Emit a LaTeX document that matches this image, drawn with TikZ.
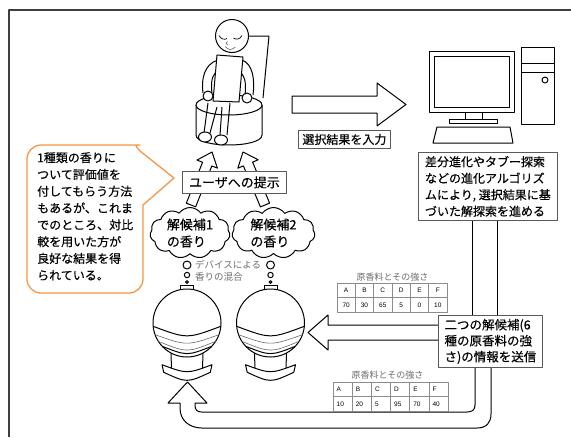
\documentclass[tikz,border=0pt]{standalone}
\usepackage{fontspec}
\setmainfont{Noto Sans CJK JP}[FakeBold=0.35]
\newfontfamily\plainjp{Noto Sans CJK JP}
\newfontfamily\latinsans{Liberation Sans}
\usetikzlibrary{shapes.symbols,shapes.geometric}
\definecolor{calloutorange}{HTML}{F79646}
\definecolor{framegray}{HTML}{3F3F3F}
\definecolor{softgray}{HTML}{6E6E6E}

\tikzset{
  ink/.style={draw=black, line width=1pt},
  thinink/.style={draw=black!60, line width=0.6pt},
  labelbox/.style={draw=black!65, line width=0.8pt, fill=white, inner sep=2pt, align=left},
  jp12/.style={font=\fontsize{12}{16.5}\selectfont},
  jp13/.style={font=\fontsize{13}{17}\selectfont},
  puff/.style={cloud, draw=black, line width=1pt, fill=white, cloud puffs=11,
    cloud puff arc=110, cloud ignores aspect, inner sep=0pt, align=left,
    font=\fontsize{13}{17}\selectfont},
  cellbox/.style={draw=black!45, line width=0.5pt, fill=white},
  celltext/.style={font=\latinsans\fontsize{6.5}{7}\selectfont, inner sep=0pt},
  tabletitle/.style={font=\plainjp\fontsize{9}{10}\selectfont, text=softgray, inner sep=0pt},
  flask/.pic={
    % cap
    \draw[ink, fill=white] (-6.5,-38) rectangle (6.5,-33.5);
    % neck of the stand
    \draw[ink] (-16,30) -- (-15.5,46);
    \draw[ink] (16,30) -- (15.5,46);
    % glass sphere
    \draw[ink, fill=white] (0,0) circle[radius=34];
    % liquid layers
    \draw[ink] (-33.8,3.3) .. controls (0,16) .. (33.8,3.3);
    \draw[thinink] (-31.9,11.7) .. controls (0,23) .. (31.9,11.7);
    \draw[thinink] (-28.7,18.3) .. controls (0,30) .. (28.7,18.3);
    \draw[ink] (-24.8,23.3) .. controls (0,33) .. (24.8,23.3);
    % base
    \draw[ink, fill=white] (-25,41.7) .. controls (0,51) .. (25,41.7)
      -- (23.3,49.3) .. controls (0,60) .. (-23.3,49.3) -- cycle;
  }
}

\begin{document}
\begin{tikzpicture}[x=1pt, y=-1pt, line join=round]
\useasboundingbox (0,0) rectangle (571,437);
\fill[white] (0,0) rectangle (571,437);

% outer frame
\draw[framegray, line width=1.4pt] (9,437) -- (9,10) -- (571,10);

% ---------- person on a round stool ----------
\draw[ink] (248,36) -- (269,36) -- (263,98);
\draw[ink, fill=white] (196,105) -- (196,135) .. controls (196,148.3) and (262,148.3) .. (262,135) -- (262,105);
\draw[ink, fill=white] (229,105) ellipse[x radius=33, y radius=10];
\draw[ink] (208,103) -- (204,133);
\draw[ink] (217,107) -- (210,133);
\draw[ink] (222,107) -- (220,135);
\draw[ink] (230,103) -- (227,135);
\draw[ink, fill=white] (205,137) ellipse[x radius=6.5, y radius=5];
\draw[ink, fill=white] (221,140) ellipse[x radius=6.5, y radius=5];
\draw[ink] (218,60) .. controls (204,64) and (201,80) .. (203,93);
\draw[ink] (216,72) .. controls (211,77) and (211,86) .. (212,93);
\draw[ink] (242,60) .. controls (253,64) and (255,80) .. (253,95);
\draw[ink] (240,72) .. controls (246,77) and (246,86) .. (245,95);
\draw[ink, fill=white] (217,55) -- (243,57) -- (239,102) -- (213,101) -- cycle;
\draw[ink, fill=white] (208,96) circle[radius=5];
\draw[ink, fill=white] (247,98) circle[radius=5];
\draw[ink, fill=white] (232,36) circle[radius=16.5];
\draw[line width=0.7pt] (219,35.5) .. controls (221,39.5) and (225,40) .. (227,38.5);
\draw[line width=0.7pt] (233.5,38) .. controls (236,40) and (240,39.5) .. (242,35.5);
\draw[line width=0.5pt, black!70] (227.5,41.5) .. controls (225.5,43.5) .. (228,45);
\draw[line width=0.6pt, black!60] (225,46.5) .. controls (230,50.5) .. (235.5,47);

% ---------- input arrow ----------
\draw[ink, fill=white] (292,96) -- (377,96) -- (377,83) -- (406,104.5) -- (377,126) -- (377,113) -- (292,113) -- cycle;
\node[labelbox, jp12, anchor=north west, minimum width=92pt, minimum height=18pt] (input) at (298,130) {選択結果を入力};

% ---------- computer ----------
\draw[ink] (429,51) rectangle (514,112);
\draw[ink] (434,56) rectangle (509,107);
\draw[ink] (465,112) rectangle (482,119);
\draw[ink] (449,119) rectangle (497,123);
\draw[ink] (437,127) -- (510,127) -- (513,143) -- (433,143) -- cycle;
\draw[ink] (521,47) rectangle (554,124);
\draw[ink] (521,63) -- (554,63);
\draw[ink] (521,72) -- (554,72);
\draw[ink] (545,80) circle[radius=3];

% connector from the algorithm box down to the sending box
\coordinate (linkLa) at (472,220);
\coordinate (linkLb) at (472,315);
\coordinate (linkRa) at (497,220);
\coordinate (linkRb) at (497,315);
\draw[ink] (linkLa) -- (linkLb);
\draw[ink] (linkRa) -- (linkRb);

\node[labelbox, jp12, anchor=north west, minimum width=139pt, minimum height=68pt] (algo) at (418,152)
  {差分進化やタブー探索\\などの進化アルゴリズ\\ムにより, 選択結果に基\\づいた解探索を進める};

% ---------- return arrow (U shape) ----------
\draw[ink, fill=white] (491,367) -- (491,414) .. controls (491,422) and (487,428) .. (477,428)
  -- (202,428) .. controls (189,428) and (180,420) .. (180,408) -- (180,403)
  -- (168,403) -- (187.5,382) -- (207,403) -- (195,403) -- (195,405)
  .. controls (195,410) and (197,412) .. (202,412) -- (467,412)
  .. controls (472,412) and (475,410) .. (475,405) -- (475,367);

% ---------- sending arrow ----------
\draw[ink, fill=white] (440,325) -- (328,325) -- (328,315) -- (308,332.5) -- (328,350) -- (328,340) -- (440,340);
\node[labelbox, font=\fontsize{12.5}{16}\selectfont, anchor=north west, minimum width=104pt, minimum height=52pt] (send) at (438,315)
  {二つの解候補(6\\種の原香料の強\\さ)の情報を送信};

% ---------- ingredient tables ----------
\node[tabletitle] (titleA) at (392.5,277) {原香料とその強さ};
\foreach \lab [count=\i] in {A,B,C,D,E,F} {
  \pgfmathsetmacro{\xl}{337+(\i-1)*18.33}
  \pgfmathsetmacro{\xr}{337+\i*18.33}
  \draw[cellbox] (\xl,283) rectangle (\xr,297.5);
  \node[celltext] (tAh\i) at ({(\xl+\xr)/2},290.3) {\lab};
}
\foreach \val [count=\i] in {70,30,65,5,0,10} {
  \pgfmathsetmacro{\xl}{337+(\i-1)*18.33}
  \pgfmathsetmacro{\xr}{337+\i*18.33}
  \draw[cellbox] (\xl,297.5) rectangle (\xr,312);
  \node[celltext] (tAv\i) at ({(\xl+\xr)/2},305) {\val};
}

\node[tabletitle] (titleB) at (387.5,375) {原香料とその強さ};
\foreach \lab [count=\i] in {A,B,C,D,E,F} {
  \pgfmathsetmacro{\xl}{333+(\i-1)*19.17}
  \pgfmathsetmacro{\xr}{333+\i*19.17}
  \draw[cellbox] (\xl,382) rectangle (\xr,396.5);
  \node[celltext, anchor=west] (tBh\i) at ({\xl+3.5},389.3) {\lab};
}
\foreach \val [count=\i] in {10,20,5,95,70,40} {
  \pgfmathsetmacro{\xl}{333+(\i-1)*19.17}
  \pgfmathsetmacro{\xr}{333+\i*19.17}
  \draw[cellbox] (\xl,396.5) rectangle (\xr,411);
  \node[celltext, anchor=west] (tBv\i) at ({\xl+3.5},404) {\val};
}

% ---------- presentation arrows ----------
\draw[ink, fill=white] (195.65,206.84) -- (211.85,165.94) -- (217.4,168.1) -- (212,152)
  -- (197.0,160.05) -- (202.55,162.26) -- (186.35,203.16) -- cycle;
\draw[ink, fill=white] (269.6,203.1) -- (252.6,162.1) -- (258.2,159.8) -- (243,152)
  -- (237.8,168.2) -- (243.4,165.9) -- (260.4,206.9) -- cycle;
\node[labelbox, jp13, anchor=north west, minimum width=104pt, minimum height=22pt] (present) at (182,171) {ユーザへの提示};

% ---------- scent clouds ----------
\node[puff, minimum width=80pt, minimum height=51pt] (cand1) at (190,233) {解候補1\\の香り};
\node[puff, minimum width=83pt, minimum height=51pt] (cand2) at (273.5,233) {解候補2\\の香り};

% thought bubbles rising from the devices
\foreach \cx/\tag in {187/A,270.5/B} {
  \draw[ink, fill=white] (\cx,265) circle[radius=4];
  \draw[ink, fill=white] (\cx,275) circle[radius=2.7];
  \draw[ink, fill=white] (\cx,282) circle[radius=1.4];
}
\node[anchor=west, align=left, text=softgray, inner sep=0pt, font=\plainjp\fontsize{9.5}{12}\selectfont] (mixnote) at (195,271)
  {デバイスによる\\香りの混合};

% ---------- scent devices ----------
\pic (devA) at (187,323) {flask};
\pic (devB) at (270.5,323) {flask};

% ---------- callout ----------
\draw[draw=calloutorange, line width=1.3pt, fill=white]
  (174,178) -- (143,205) [rounded corners=14] -- (143,293) -- (27,293) -- (27,145) -- (126,145)
  [sharp corners] .. controls (133,145) and (137,147) .. (140,151) -- cycle;
\node[anchor=north west, align=left, inner sep=0pt, font=\fontsize{12}{16.8}\selectfont] (note) at (37,152)
  {1種類の香りに\\ついて評価値を\\付してもらう方法\\もあるが、これま\\でのところ、対比\\較を用いた方が\\良好な結果を得\\られている。};

\end{tikzpicture}
\end{document}
